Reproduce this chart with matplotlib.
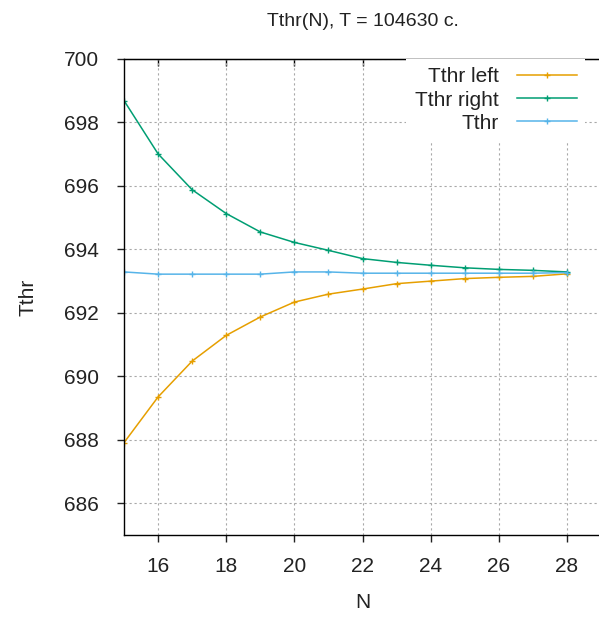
import numpy as np
import matplotlib
matplotlib.use('Agg')
import matplotlib.pyplot as plt

plt.rcParams['font.family'] = ['Liberation Sans', 'DejaVu Sans']

# data
n_vals = [15, 16, 17, 18, 19, 20, 21, 22, 23, 24, 25, 26, 27, 28]
tthr_left = [687.91, 689.35, 690.48, 691.29, 691.87, 692.34, 692.59,
             692.75, 692.92, 693.00, 693.08, 693.12, 693.15, 693.23]
tthr_right = [698.69, 697.01, 695.88, 695.13, 694.55, 694.22, 693.97,
              693.71, 693.59, 693.50, 693.42, 693.37, 693.34, 693.29]
tthr = [693.29, 693.22, 693.22, 693.22, 693.22, 693.29, 693.29,
        693.25, 693.25, 693.25, 693.25, 693.25, 693.25, 693.27]
labels = ['Tthr left', 'Tthr right', 'Tthr']
colors = ['#E69F00', '#009E73', '#56B4E9']
x_ticks = [16, 18, 20, 22, 24, 26, 28]
y_ticks = [686, 688, 690, 692, 694, 696, 698, 700]

W, H = 599, 618
fig = plt.figure(figsize=(W / 100, H / 100), dpi=100)
# plot area: left 124px, top 59px, bottom 535px, right runs off the canvas
ax = fig.add_axes([124 / W, 1 - 535 / H, 477 / W, (535 - 59) / H])

for ys, lab, col in zip([tthr_left, tthr_right, tthr], labels, colors):
    ax.plot(n_vals, ys, color=col, lw=1.1, marker='+', ms=5, mew=1,
            label=lab)

ax.set_xlim(15, 29)
ax.set_ylim(685, 700)
ax.set_xticks(x_ticks)
ax.set_yticks(y_ticks)
ax.grid(True, color='#a8a8a8', lw=0.8, linestyle=(0, (2, 2.5)))
ax.set_axisbelow(True)

for s in ['left', 'bottom', 'top']:
    ax.spines[s].set_linewidth(1.0)
    ax.spines[s].set_color('black')
ax.spines['right'].set_visible(False)

ax.tick_params(axis='both', direction='out', length=5, width=1,
               labelsize=15, colors='#222222')
ax.tick_params(axis='x', pad=11)
ax.tick_params(axis='y', pad=13)

top = ax.secondary_xaxis('top')
top.set_xticks(x_ticks)
top.tick_params(direction='in', length=5, width=1, labeltop=False)

ax.set_xlabel('N', fontsize=15, labelpad=12, color='#222222')
ax.set_ylabel('Tthr', fontsize=15, labelpad=19, color='#222222')
ax.set_title('Tthr(N), T = 104630 c.', fontsize=14, pad=24, color='#222222')

leg = ax.legend(loc='upper right', bbox_to_anchor=(585 / W, 1 - 59 / H),
                bbox_transform=fig.transFigure, fontsize=15,
                markerfirst=False, handlelength=2.85, handletextpad=0.9,
                labelspacing=0.2, borderpad=0.4, borderaxespad=0,
                frameon=True, fancybox=False)
leg.get_frame().set_facecolor('white')
leg.get_frame().set_edgecolor('none')
leg.get_frame().set_alpha(1)
for t in leg.get_texts():
    t.set_color('#222222')
# right-align the legend texts
leg._legend_box.align = 'right'

fig.savefig('out.png', dpi=100)
